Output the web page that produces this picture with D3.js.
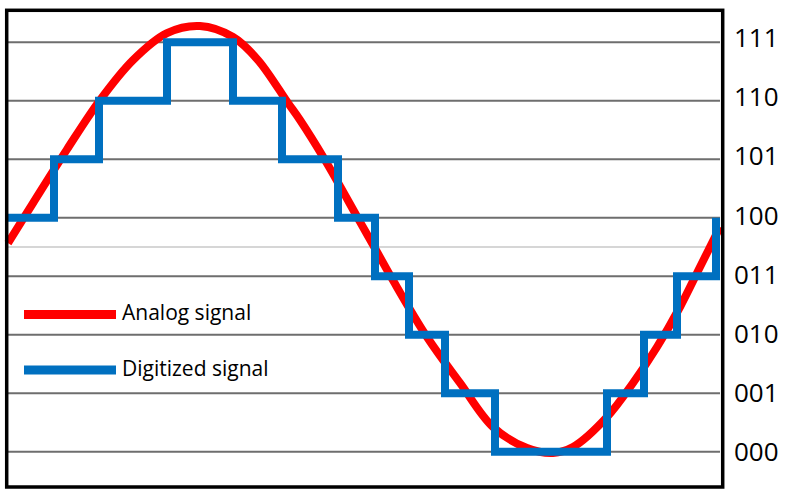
<!DOCTYPE html>
<html>
<head>
<meta charset="utf-8">
<script src="https://cdn.jsdelivr.net/npm/d3@7"></script>
<style>
  html, body { margin: 0; padding: 0; background: #ffffff; }
  svg { display: block; }
</style>
</head>
<body>
<svg id="chart" width="800" height="498"></svg>
<script>
// ---- data ----
const levelLabels = ["000", "001", "010", "011", "100", "101", "110", "111"];

// analog signal samples (time, level)
const analogTime  = [1, 26, 60, 93, 126, 160, 193, 226, 251, 281, 293, 318, 353, 366, 386, 420, 453, 486, 520, 546, 566, 600, 626, 650, 673, 693, 713];
const analogLevel = [3.568, 4.252, 5.170, 6.013, 6.697, 7.158, 7.278, 7.090, 6.697, 5.962, 5.671, 4.987, 3.930, 3.540, 2.930, 1.961, 1.175, 0.422, 0.063, -0.022, 0.080, 0.593, 1.175, 1.790, 2.474, 3.158, 3.842];

// digitized signal: time where each step starts, and its quantized level
const stepTime  = [0, 47, 92, 160, 226, 275, 331, 368, 402, 438, 488, 600, 637, 670, 709];
const stepLevel = [4, 5, 6, 7, 6, 5, 4, 3, 2, 1, 0, 1, 2, 3, 4];

const seriesNames = ["Analog signal", "Digitized signal"];
const seriesColors = ["#ff0000", "#0070c0"];

// ---- scales ----
const svg = d3.select("#chart");
const x = d3.scaleLinear().domain([0, 715]).range([7, 722]);
const y = d3.scaleLinear().domain([0, 7]).range([451.7, 42.3]);
const yLabel = d3.scaleLinear().domain([0, 7]).range([452, 37.5]);

// gridlines
svg.append("g").selectAll("line")
  .data(d3.range(levelLabels.length))
  .join("line")
  .attr("x1", x(0)).attr("x2", x(713))
  .attr("y1", d => y(d)).attr("y2", d => y(d))
  .attr("stroke", "#6e6e6e").attr("stroke-width", 2);

// zero line of the analog signal (mid level)
svg.append("line")
  .attr("x1", x(0)).attr("x2", x(713))
  .attr("y1", y(3.5)).attr("y2", y(3.5))
  .attr("stroke", "#c8c8c8").attr("stroke-width", 1.5);

// tick labels on the right
svg.append("g").selectAll("text")
  .data(levelLabels)
  .join("text")
  .attr("x", 734)
  .attr("y", (d, i) => yLabel(i))
  .attr("dy", "0.36em")
  .attr("font-family", "'Open Sans', sans-serif")
  .attr("font-size", 26)
  .attr("fill", "#000")
  .text(d => d);

// analog line
const analogData = analogTime.map((t, i) => [t, analogLevel[i]]);
svg.append("path")
  .datum(analogData)
  .attr("fill", "none")
  .attr("stroke", seriesColors[0])
  .attr("stroke-width", 8)
  .attr("stroke-linecap", "butt")
  .attr("d", d3.line().x(d => x(d[0])).y(d => y(d[1])).curve(d3.curveCatmullRom.alpha(0.5)));

const stepData = stepTime.map((t, i) => [t, stepLevel[i]]);
svg.append("path")
  .datum(stepData)
  .attr("fill", "none")
  .attr("stroke", seriesColors[1])
  .attr("stroke-width", 8)
  .attr("stroke-linejoin", "miter")
  .attr("stroke-linecap", "butt")
  .attr("d", d3.line().x(d => x(d[0])).y(d => y(d[1])).curve(d3.curveStepAfter));

// legend
const legend = svg.append("g");
const legendY = [314.5, 370];
seriesNames.forEach((name, i) => {
  legend.append("line")
    .attr("x1", 24).attr("x2", 116)
    .attr("y1", legendY[i]).attr("y2", legendY[i])
    .attr("stroke", seriesColors[i]).attr("stroke-width", 9);
  legend.append("text")
    .attr("x", 122).attr("y", legendY[i] - 2)
    .attr("dy", "0.36em")
    .attr("font-family", "'Open Sans', sans-serif")
    .attr("font-size", 21)
    .attr("fill", "#000")
    .text(name);
});

// frame
svg.append("rect")
  .attr("x", 6.7).attr("y", 10.3)
  .attr("width", 716).attr("height", 476.7)
  .attr("fill", "none")
  .attr("stroke", "#000")
  .attr("stroke-width", 3.5);
</script>
</body>
</html>
